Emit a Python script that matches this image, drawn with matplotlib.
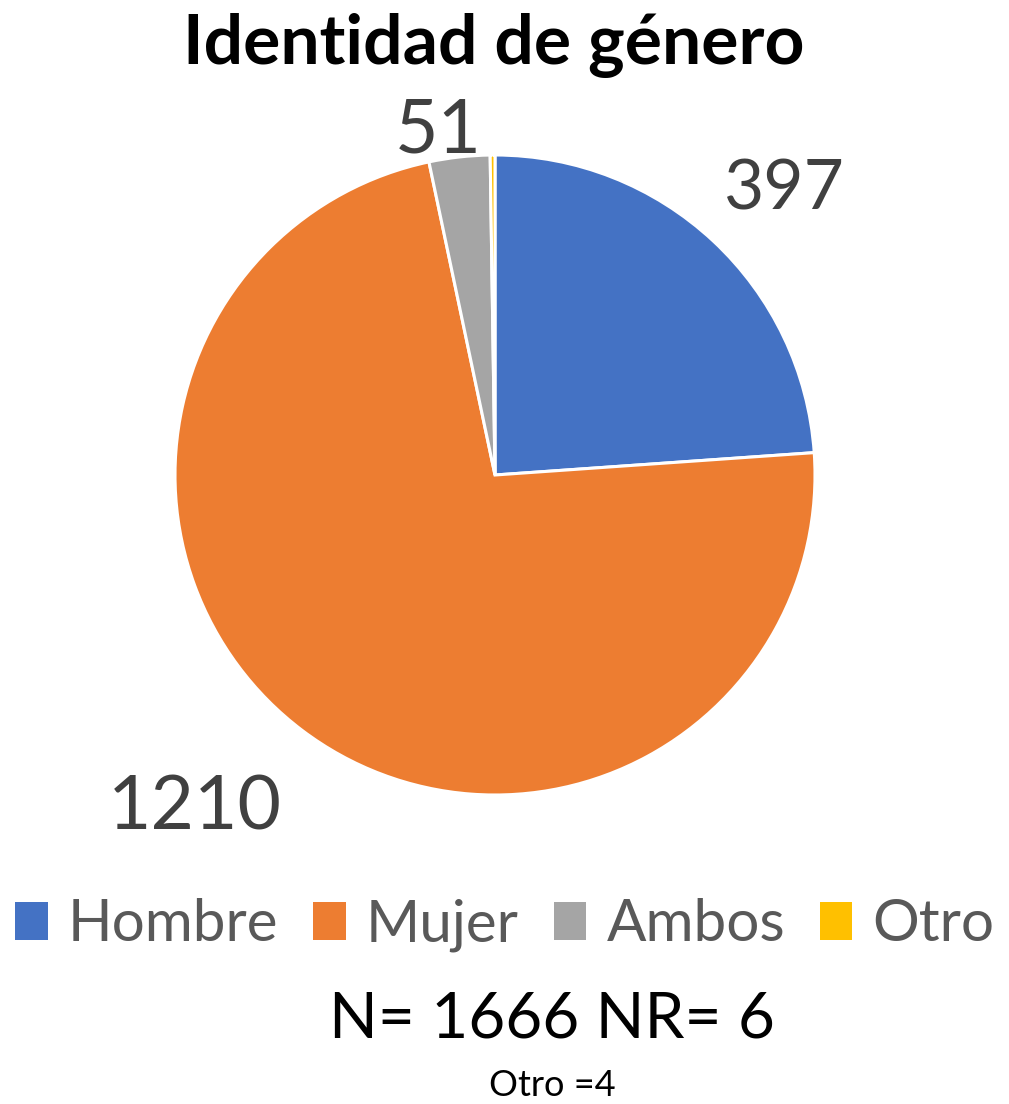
import matplotlib
matplotlib.use("Agg")
import matplotlib.pyplot as plt
import numpy as np
from matplotlib.patches import Rectangle

categories = ["Hombre", "Mujer", "Ambos", "Otro"]
values = [397, 1210, 51, 4]
colors = ["#4472C4", "#ED7D31", "#A5A5A5", "#FFC000"]
shown_labels = ["397", "1210", "51", ""]
title = "Identidad de género"
note1 = "N= 1666 NR= 6"
note2 = "Otro =4"

plt.rcParams['font.family'] = ['Lato', 'DejaVu Sans']

W, H = 1009, 1104
fig = plt.figure(figsize=(W / 100, H / 100), dpi=100)
cx, cy, r = 495, 475, 320
ax = fig.add_axes([(cx - r) / W, (H - cy - r) / H, 2 * r / W, 2 * r / H])
wedges, _ = ax.pie(values, colors=colors, startangle=90, counterclock=False,
                   wedgeprops=dict(edgecolor="white", linewidth=2.2), radius=1.0)
ax.set_xlim(-1, 1)
ax.set_ylim(-1, 1)
ax.set_aspect("equal")
ax.axis("off")

# label placement
label_dist = [1.27, 1.40, 1.09, 1.1]
label_angle_shift = [-2.5, -5, 3, 0]
label_size = [50, 54, 54, 40]
for w, lab, d, sh, fs in zip(wedges, shown_labels, label_dist, label_angle_shift, label_size):
    if not lab:
        continue
    ang = np.deg2rad((w.theta1 + w.theta2) / 2 + sh)
    ax.text(d * np.cos(ang), d * np.sin(ang), lab, ha="center", va="center",
            fontsize=fs, color="#404040", clip_on=False)

fig.text(494 / W, 1 - 45 / H, title, ha="center", va="center",
         fontsize=50, fontweight="bold", color="black")

handles = [Rectangle((0, 0), 1, 1, facecolor=c, edgecolor="none") for c in colors]
fig.legend(handles, categories, loc="center", bbox_to_anchor=(505 / W, 1 - 925 / H),
           ncol=4, frameon=False, fontsize=42, labelcolor="#595959",
           handlelength=0.55, handleheight=0.62, handletextpad=0.35, columnspacing=0.6)

fig.text(552 / W, 1 - 1020 / H, note1, ha="center", va="center", fontsize=46, color="black")
fig.text(552 / W, 1 - 1086 / H, note2, ha="center", va="center", fontsize=26, color="black")

fig.savefig("out.png", dpi=100, facecolor="white")
